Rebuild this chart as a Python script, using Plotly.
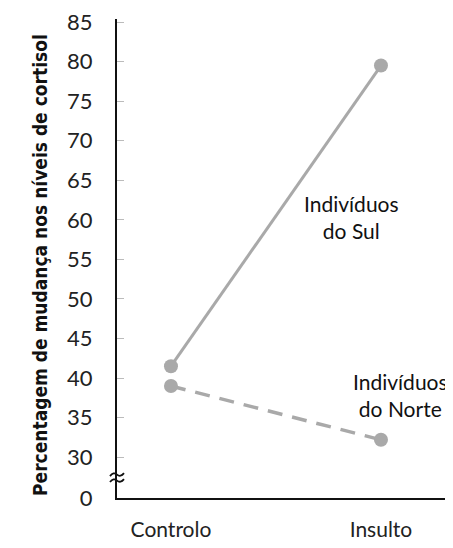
import plotly.graph_objects as go

categories = ["Controlo", "Insulto"]
sul_values = [41.5, 79.5]
norte_values = [39.0, 32.2]
tick_values = [24.84, 30, 35, 40, 45, 50, 55, 60, 65, 70, 75, 80, 85]
tick_labels = ["0", "30", "35", "40", "45", "50", "55", "60", "65", "70", "75", "80", "85"]

OFF = 8  # default body margin of the page
W, H = 453 - OFF, 548 - OFF
L, R, T, B = 117 - OFF, 0, 17 - OFF, 50
plot_w = W - L - R
plot_h = H - T - B

fig = go.Figure()
line_col = "#a9a9a9"
fig.add_trace(go.Scatter(x=[0, 1], y=sul_values, mode="lines+markers",
                         line=dict(color=line_col, width=3),
                         marker=dict(size=14, color=line_col), showlegend=False))
fig.add_trace(go.Scatter(x=[0, 1], y=norte_values, mode="lines+markers",
                         line=dict(color=line_col, width=3.5, dash="15px,10px"),
                         marker=dict(size=14, color=line_col), showlegend=False))

fig.update_layout(
    width=W, height=H,
    margin=dict(l=L, r=R, t=T, b=B),
    paper_bgcolor="white", plot_bgcolor="white",
    font=dict(family="Lato", color="#222"),
    xaxis=dict(range=[-0.257, 1.343], tickvals=[0, 1], ticktext=categories,
               showgrid=False, zeroline=False, showline=True, linecolor="#111",
               linewidth=2, ticks="", tickfont=dict(size=21, family="Lato", color="#222"),
               ticklabelstandoff=12, ticklabeloverflow="allow"),
    yaxis=dict(range=[24.84, 85.38], tickvals=tick_values, ticktext=tick_labels,
               showgrid=False, zeroline=False, showline=True, linecolor="#111",
               linewidth=2, ticks="inside", ticklen=7, tickcolor="#bbbbbb", tickwidth=1,
               tickfont=dict(size=22, family="Lato", color="#222"),
               ticklabelstandoff=18, ticklabeloverflow="allow"),
)

# axis break marks (page pixel coords converted to paper)
def px(p):
    return (p - OFF - L) / plot_w

def py(p):
    return (H - B - (p - OFF)) / plot_h

for ym in [474.5, 480.5]:
    x0, x1 = 110, 124
    path = (f"M {px(x0)},{py(ym+1.5)} "
            f"Q {px(x0+3.5)},{py(ym-3)} {px(x0+7)},{py(ym)} "
            f"T {px(x1)},{py(ym-1.5)}")
    fig.add_shape(type="path", xref="paper", yref="paper", path=path,
                  line=dict(color="#111", width=1.8))

fig.add_annotation(text="Indivíduos<br>do Sul", x=1, y=60.3, xref="x", yref="y",
                   xanchor="center", yanchor="middle", showarrow=False,
                   xshift=-29, font=dict(size=21, family="Lato", color="#111"))
fig.add_annotation(text="Indivíduos<br>do Norte", x=1, y=37.8, xref="x", yref="y",
                   xanchor="center", yanchor="middle", showarrow=False,
                   xshift=20, font=dict(size=21, family="Lato", color="#111"))

fig.add_annotation(text="<b>Percentagem de mudança nos níveis de cortisol</b>",
                   x=px(40), y=py(264),
                   xref="paper", yref="paper", textangle=-90,
                   xanchor="center", yanchor="middle", showarrow=False,
                   font=dict(size=19, family="DejaVu Sans Condensed", color="#111"))

fig.write_html("out.html")
